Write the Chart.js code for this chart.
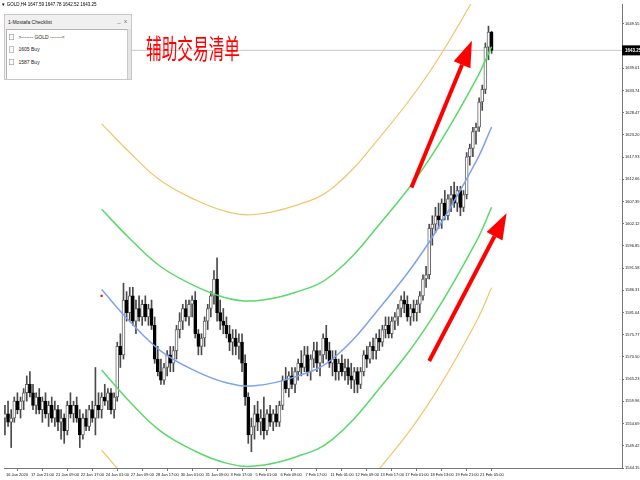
<!DOCTYPE html>
<html>
<head>
<meta charset="utf-8">
<title>GOLD,H4</title>
<script src="https://cdn.jsdelivr.net/npm/chart.js@4.4.1/dist/chart.umd.min.js"></script>
<style>
  html, body { margin: 0; padding: 0; background: #fff; }
  #wrap { position: relative; width: 640px; height: 480px; overflow: hidden; }
  #chart { position: absolute; left: 0; top: 0; }
  /* checklist panel is laid out at 2x and scaled down, so tiny text stays crisp */
  #panel { position: absolute; left: 4px; top: 14px; width: 256px; height: 132px; transform: scale(0.5); transform-origin: 0 0;
           background: #f0f0f0; border: 2px solid #c8c8c8; box-sizing: border-box;
           font-family: 'Liberation Sans', sans-serif; font-size: 10px; color: #222; }
  #panel .title { position: absolute; left: 6px; top: 9px; }
  #panel .btns { position: absolute; right: 8px; top: 5px; font-size: 12px; color: #666; }
  #panel .list { position: absolute; left: 2px; top: 28px; right: 6px; bottom: 0; background: #fff;
                 border: 2px solid #b4b4b4; border-bottom: none; }
  #panel .sb { position: absolute; right: 0; top: 28px; width: 6px; bottom: 0; background: #e4e4e4; border-left: 1px solid #c8c8c8; }
  .item { position: absolute; left: 4px; height: 16px; line-height: 16px; white-space: nowrap; }
  .cb { display: inline-block; width: 8px; height: 10px; border: 1px solid #8a8a8a; margin-right: 9px; vertical-align: middle; background: #fafafa; }
  #note { position: absolute; left: 146px; top: 34px; color: #ff0000; font-family: 'Noto Sans CJK SC', sans-serif;
          font-size: 27px; line-height: 1; transform: scaleX(0.58); transform-origin: 0 0; white-space: nowrap; }
</style>
</head>
<body>
<div id="wrap">
  <canvas id="chart" width="640" height="480"></canvas>
  <div id="panel">
    <div class="title">1-Mostafa Checklist</div>
    <div class="btns">_&nbsp;&nbsp;x</div>
    <div class="list" id="list"></div>
    <div class="sb"></div>
  </div>
  <div id="note">辅助交易清单</div>
</div>
<script>
// H4 candles, GOLD (bar 0 = 16 Jan 2020)
const openP = [1556,1557,1555,1556,1560,1558,1560,1562,1564,1562,
  1559,1561,1558,1560,1557,1559,1556,1558,1555,1556,
  1553,1559,1557,1559,1556,1552,1556,1554,1558,1556,
  1559,1558,1561,1560,1562,1558,1561,1573,1571,1584,
  1581,1585,1579,1582,1580,1583,1580,1582,1578,1570,
  1567,1565,1568,1571,1569,1572,1577,1579,1582,1580,
  1583,1584,1576,1573,1575,1579,1582,1585,1589,1581,
  1579,1578,1576,1574,1575,1573,1574,1569,1561,1552,
  1554,1557,1555,1556,1553,1557,1555,1557,1555,1559,
  1565,1563,1566,1564,1567,1569,1568,1571,1567,1570,
  1572,1569,1571,1575,1572,1569,1570,1567,1569,1567,
  1568,1566,1565,1567,1564,1567,1571,1570,1573,1572,
  1575,1574,1577,1578,1576,1579,1580,1582,1584,1583,
  1580,1582,1581,1583,1585,1589,1590,1601,1602,1604,
  1603,1607,1604,1608,1609,1607,1610,1606,1609,1618,
  1620,1624,1625,1631,1634,1644,1647.59];
const highP = [1559,1560,1558,1561,1562,1561,1563,1566,1567,1564,
  1562,1563,1561,1562,1560,1561,1560,1559,1558,1557,
  1560,1562,1560,1561,1558,1557,1558,1559,1560,1568,
  1562,1562,1564,1563,1563,1562,1574,1576,1588,1586,
  1587,1587,1584,1585,1584,1585,1583,1584,1580,1573,
  1570,1569,1572,1573,1573,1578,1581,1583,1584,1584,
  1585,1586,1577,1576,1580,1583,1586,1591,1594,1584,
  1582,1580,1578,1577,1577,1576,1576,1571,1562,1556,
  1559,1560,1558,1561,1558,1559,1558,1559,1560,1566,
  1568,1567,1568,1568,1570,1572,1573,1573,1571,1574,
  1574,1572,1576,1578,1574,1572,1572,1570,1571,1570,
  1570,1569,1568,1568,1568,1572,1573,1574,1575,1576,
  1577,1578,1580,1580,1580,1581,1583,1585,1586,1585,
  1583,1584,1584,1586,1590,1592,1602,1604,1606,1607,
  1608,1610,1609,1611,1612,1611,1611,1610,1619,1621,
  1625,1626,1632,1635,1645,1649,1647.78];
const lowP = [1552,1554,1549,1555,1557,1556,1558,1560,1561,1558,
  1557,1557,1555,1556,1554,1555,1554,1553,1551,1550,
  1552,1556,1555,1555,1549,1551,1553,1553,1555,1552,
  1556,1556,1559,1558,1557,1556,1560,1568,1570,1579,
  1579,1578,1576,1579,1578,1579,1578,1577,1569,1566,
  1564,1564,1566,1567,1567,1570,1575,1577,1579,1578,
  1580,1575,1571,1571,1573,1577,1580,1583,1579,1577,
  1576,1575,1572,1571,1571,1570,1567,1559,1550,1548,
  1551,1553,1552,1551,1552,1554,1553,1554,1554,1558,
  1562,1561,1563,1562,1565,1566,1567,1566,1565,1568,
  1567,1566,1569,1570,1568,1566,1565,1565,1566,1565,
  1564,1563,1562,1562,1563,1566,1568,1569,1570,1570,
  1572,1573,1575,1575,1575,1577,1578,1580,1581,1579,
  1578,1579,1579,1581,1584,1587,1589,1597,1600,1601,
  1601,1603,1603,1605,1606,1605,1604,1605,1608,1616,
  1618,1621,1624,1629,1633,1641,1642.52];
const closeP = [1557,1555,1556,1560,1558,1560,1562,1564,1562,1559,
  1561,1558,1560,1557,1559,1556,1558,1555,1556,1553,
  1559,1557,1559,1556,1552,1556,1554,1558,1556,1559,
  1558,1561,1560,1562,1558,1561,1573,1571,1584,1581,
  1585,1579,1582,1580,1583,1580,1582,1578,1570,1567,
  1565,1568,1571,1569,1572,1577,1579,1582,1580,1583,
  1584,1576,1573,1575,1579,1582,1585,1589,1581,1579,
  1578,1576,1574,1575,1573,1574,1569,1561,1552,1554,
  1557,1555,1556,1553,1557,1555,1557,1555,1559,1565,
  1563,1566,1564,1567,1569,1568,1571,1567,1570,1572,
  1569,1571,1575,1572,1569,1570,1567,1569,1567,1568,
  1566,1565,1567,1564,1567,1571,1570,1573,1572,1575,
  1574,1577,1578,1576,1579,1580,1582,1584,1583,1580,
  1582,1581,1583,1585,1589,1590,1601,1602,1604,1603,
  1607,1604,1608,1609,1607,1610,1606,1609,1618,1620,
  1624,1625,1631,1634,1644,1647.59,1643.25];

// regression channel, read at these bar numbers
const regBars   = [31, 40, 50, 61, 71, 80, 93, 105, 121, 136, 151, 156];
const regMid    = [1586.48,1578.95,1571.90,1567.19,1564.37,1563.66,1565.78,1570.01,1582.96,1597.78,1616.84,1625.07];
const regUp1    = [1605.54,1598.60,1591.90,1587.30,1584.50,1583.80,1585.80,1590.00,1602.80,1617.40,1636.30,1644.13];
const regDn1    = [1567.42,1559.89,1552.84,1548.13,1545.31,1544.60,1546.72,1550.95,1563.90,1578.72,1597.78,1606.01];
const regUp2    = [1625.80,1619.00,1612.30,1607.80,1605.00,1604.30,1606.40,1610.60,1623.40,1638.00,1656.50,1664.40];
const regDn2    = [1548.36,1540.83,1533.78,1529.07,1526.25,1525.54,1527.66,1531.89,1544.84,1559.66,1578.72,1586.95];
const regStart  = [31, 1585.0];

// time axis: a label every 8 bars
const timeBars   = [0,8,16,24,32,40,48,56,64,72,80,88,96,104,112,120,128,136,144,152];
const timeLabels = ['16 Jan 2020','17 Jan 21:00','21 Jan 09:00','22 Jan 17:00','24 Jan 01:00','27 Jan 09:00',
  '28 Jan 17:00','30 Jan 01:00','31 Jan 09:00','3 Feb 17:00','5 Feb 01:00','6 Feb 09:00','7 Feb 17:00',
  '11 Feb 01:00','12 Feb 09:00','13 Feb 17:00','17 Feb 01:00','18 Feb 13:00','19 Feb 21:00','21 Feb 05:00'];
const priceLabels = ['1544.15','1549.42','1554.69','1559.96','1565.23','1570.50','1575.77','1581.04','1586.31',
  '1591.58','1596.85','1602.12','1607.39','1612.66','1617.93','1623.20','1628.47','1633.74','1639.01','1649.55'];

// hand drawn arrows [bar, price]
const arrowTail = [[130.3, 1610.72], [136.0, 1569.54]];
const arrowHead = [[149.7, 1645.54], [160.8, 1604.60]];

const checklist = ['>------- GOLD -------<', '1605 Buy', '1587 Buy'];

const last = openP.length - 1;
const lastClose = closeP[last];

// checklist panel
const list = document.getElementById('list');
checklist.forEach(function(txt, i) {
  const d = document.createElement('div');
  d.className = 'item';
  d.style.top = (6 + i * 25) + 'px';
  const cb = document.createElement('span');
  cb.className = 'cb';
  d.appendChild(cb);
  d.appendChild(document.createTextNode(txt));
  list.appendChild(d);
});

const wickData = lowP.map((l, i) => ({ x: i, y: [l, highP[i]] }));
const bodyData = openP.map((o, i) => ({ x: i, y: [o, closeP[i]] }));
const isUp = i => closeP[i] >= openP[i];
const curve = (vals) => regBars.map((b, i) => ({ x: b, y: vals[i] }));

const xMin = -0.3, xMax = 197.8;

const overlay = {
  id: 'overlay',
  afterDatasetsDraw(chart) {
    const { ctx, scales: { x, y } } = chart;
    ctx.save();
    ctx.fillStyle = '#ff0000';
    ctx.strokeStyle = '#ff0000';
    arrowTail.forEach(function(t, k) {
      const x0 = x.getPixelForValue(t[0]), y0 = y.getPixelForValue(t[1]);
      const x1 = x.getPixelForValue(arrowHead[k][0]), y1 = y.getPixelForValue(arrowHead[k][1]);
      const a = Math.atan2(y1 - y0, x1 - x0), len = 26, half = 9;
      const bx = x1 - len * Math.cos(a), by = y1 - len * Math.sin(a);
      ctx.lineWidth = 4;
      ctx.beginPath(); ctx.moveTo(x0, y0); ctx.lineTo(bx, by); ctx.stroke();
      ctx.beginPath();
      ctx.moveTo(x1, y1);
      ctx.lineTo(bx + half * Math.sin(a), by - half * Math.cos(a));
      ctx.lineTo(bx - half * Math.sin(a), by + half * Math.cos(a));
      ctx.closePath(); ctx.fill();
    });
    ctx.restore();
  },
  afterDraw(chart) {
    const { ctx, scales: { x, y } } = chart;
    ctx.save();
    // current price box on the price scale
    const py = y.getPixelForValue(lastClose);
    ctx.fillStyle = '#000';
    ctx.fillRect(x.right, py - 5, chart.width - x.right, 10);
    ctx.fillStyle = '#fff';
    ctx.font = 'bold 4.5px "Liberation Sans"';
    ctx.textBaseline = 'middle';
    ctx.fillText(lastClose.toFixed(2), x.right + 3, py);
    // symbol header
    ctx.fillStyle = '#000';
    ctx.font = '4.5px "Liberation Sans"';
    ctx.fillText('\u25BC GOLD,H4 ' + [openP[last], highP[last], lowP[last], closeP[last]].map(v => v.toFixed(2)).join(' '), 1, 5);
    ctx.restore();
  }
};

const band = (vals, color, w) => ({ type: 'line', data: curve(vals), borderColor: color, borderWidth: w,
  pointRadius: 0, tension: 0.4, order: 1 });

new Chart(document.getElementById('chart'), {
  type: 'bar',
  data: {
    datasets: [
      { type: 'line', data: [{ x: xMin, y: lastClose }, { x: xMax, y: lastClose }], borderColor: '#c8c8c8', borderWidth: 1, pointRadius: 0, order: 5 },
      { type: 'bar', data: wickData, grouped: false, barThickness: 1, backgroundColor: '#4a4a4a', borderWidth: 0, order: 4 },
      { type: 'bar', data: bodyData, grouped: false, barThickness: 3, borderWidth: 1, borderSkipped: false,
        backgroundColor: ctx => isUp(ctx.dataIndex) ? '#ffffff' : '#000000',
        borderColor: ctx => isUp(ctx.dataIndex) ? '#666666' : '#000000', order: 3 },
      band(regUp2, '#f4c46a', 1.2),
      band(regDn2, '#f4c46a', 1.2),
      band(regUp1, '#5ad96a', 1.5),
      band(regDn1, '#5ad96a', 1.5),
      band(regMid, '#7fa2ee', 1.5),
      { type: 'scatter', data: [{ x: regStart[0], y: regStart[1] }], pointStyle: 'rect', pointRadius: 1.5, backgroundColor: '#ff0000', borderWidth: 0, order: 0 }
    ]
  },
  options: {
    responsive: false,
    animation: false,
    devicePixelRatio: 1,
    layout: { padding: 0 },
    plugins: { legend: { display: false }, tooltip: { enabled: false } },
    scales: {
      x: {
        type: 'linear', min: xMin, max: xMax, offset: false,
        afterBuildTicks: s => { s.ticks = timeBars.map(v => ({ value: v })); },
        afterFit: s => { s.height = 12; s.paddingLeft = 0; s.paddingRight = 0; },
        ticks: { autoSkip: false, maxRotation: 0, align: 'start', padding: 1, labelOffset: 1, color: '#111',
                 font: { size: 4, family: 'Liberation Sans' }, callback: (v, i) => timeLabels[i] },
        grid: { drawOnChartArea: false, drawTicks: true, tickLength: 3, color: '#777' },
        border: { display: true, color: '#777' }
      },
      y: {
        type: 'linear', position: 'right', min: 1544.15, max: 1654.25,
        afterBuildTicks: s => { s.ticks = priceLabels.map(v => ({ value: parseFloat(v) })); },
        afterFit: s => { s.width = 18; s.paddingTop = 0; s.paddingBottom = 0; },
        ticks: { padding: 1, color: '#111', font: { size: 4, family: 'Liberation Sans' }, callback: (v, i) => priceLabels[i] },
        grid: { drawOnChartArea: false, drawTicks: true, tickLength: 2, color: '#777' },
        border: { display: true, color: '#777' }
      }
    }
  },
  plugins: [overlay]
});
</script>
</body>
</html>
